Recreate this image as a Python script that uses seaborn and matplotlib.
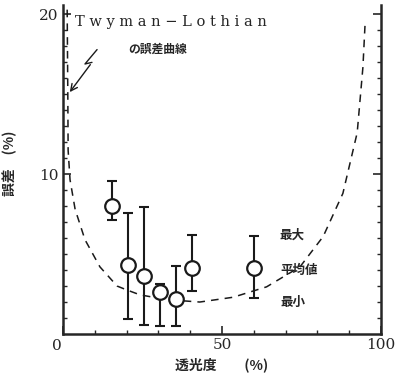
import numpy as np
import matplotlib.pyplot as plt
import seaborn as sns
import pandas as pd

# measured points: transmittance (%), mean error (%), max, min
trans = [15.4, 20.4, 25.5, 30.5, 35.5, 40.5, 60.1]
err_mean = [8.0, 4.3, 3.65, 2.6, 2.2, 4.15, 4.1]
err_max = [9.6, 7.6, 7.95, 3.1, 4.25, 6.2, 6.15]
err_min = [7.15, 0.95, 0.55, 0.5, 0.5, 2.7, 2.25]

# Twyman-Lothian error curve
curve_x = [1.3, 1.5, 1.6, 2.2, 3.8, 6.9, 11.6, 17.0, 20.0, 24.2, 29.5,
           36.0, 43.0, 53.5, 64.0, 74.5, 81.8, 88.0, 92.5, 94.3, 95.0]
curve_y = [20.3, 15.0, 11.5, 9.65, 7.8, 5.9, 4.2, 3.0, 2.76, 2.45, 2.26,
           2.1, 2.0, 2.3, 2.95, 4.2, 6.1, 8.8, 12.6, 16.7, 19.5]

xticks = [0, 50, 100]
yticks = [10, 20]

sns.set_theme(style="ticks")
plt.rcParams['font.family'] = ['DejaVu Serif', 'Noto Sans CJK JP']
cjk = ['Noto Sans CJK JP', 'DejaVu Sans']

fig = plt.figure(figsize=(3.99, 3.74), dpi=100)
ax = fig.add_axes([0.158, 0.107, 0.797, 0.88])

curve = pd.DataFrame({'x': curve_x, 'y': curve_y})
sns.lineplot(data=curve, x='x', y='y', sort=False, estimator=None, ax=ax,
             color='k', lw=1.1, linestyle=(0, (5, 4)))

t = np.array(trans)
m = np.array(err_mean)
ax.errorbar(t, m, yerr=[m - np.array(err_min), np.array(err_max) - m],
            fmt='none', ecolor='k', elinewidth=1.5, capsize=3.5, capthick=1.5)
pts = pd.DataFrame({'t': trans, 'm': err_mean})
sns.scatterplot(data=pts, x='t', y='m', ax=ax, s=110, facecolor='white',
                edgecolor='k', linewidth=1.6, zorder=5)

ax.set_xlim(0, 100)
ax.set_ylim(0, 20.6)
ax.set_xticks(xticks)
ax.set_xticklabels(['', '50', '100'])
ax.set_yticks(yticks)
ax.set_xticks(np.arange(10, 100, 10), minor=True)
ax.set_yticks(np.arange(1, 21, 1), minor=True)
ax.tick_params(which='major', direction='in', length=6, width=1.2,
               labelsize=11, pad=3)
ax.tick_params(which='minor', direction='in', length=3, width=1, right=True)
ax.tick_params(axis='y', which='major', right=True)
ax.spines['top'].set_visible(False)
for s in ['left', 'right', 'bottom']:
    ax.spines[s].set_linewidth(1.8)
ax.text(-2, -0.3, '0', ha='center', va='top', fontsize=11)

ax.set_xlabel('透光度　　(%)', family=cjk, fontweight='bold', fontsize=10,
              labelpad=4)
ax.set_ylabel('誤差　(%)', family=cjk, fontweight='bold', fontsize=10,
              labelpad=14)
ax.yaxis.set_label_coords(-0.145, 0.52)

ax.text(3.8, 19.5, 'T w y m a n − L o t h i a n', fontsize=10.5, va='center',
        family='DejaVu Serif')
ax.text(20.4, 17.8, 'の誤差曲線', family=cjk, fontweight='bold', fontsize=8.5,
        va='center')
ax.plot([10.7, 6.9, 9.1], [17.8, 16.9, 17.0], color='k', lw=1)
ax.annotate('', xy=(1.6, 15.0), xytext=(9.1, 17.0),
            arrowprops=dict(arrowstyle='->', color='k', lw=1))

ax.text(68, 6.2, '最大', family=cjk, fontweight='bold', fontsize=9, va='center')
ax.text(68.5, 4.0, '平均値', family=cjk, fontweight='bold', fontsize=9,
        va='center')
ax.text(68.5, 2.0, '最小', family=cjk, fontweight='bold', fontsize=9, va='center')

fig.savefig('out.png', dpi=100)
